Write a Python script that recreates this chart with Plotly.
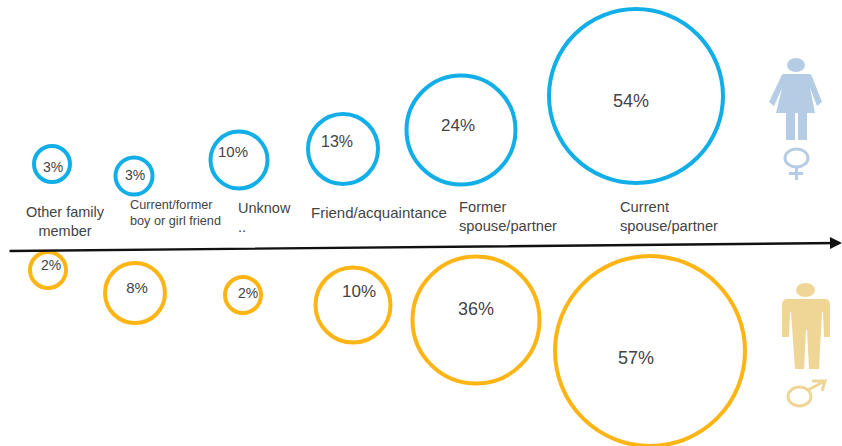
import plotly.graph_objects as go

# Relationship categories as labelled in the picture
categories = ["Other family<br>member", "Current/former<br>boy or girl friend", "Unknow<br>..",
              "Friend/acquaintance", "Former<br>spouse/partner", "Current<br>spouse/partner"]
female_pct = ["3%", "3%", "10%", "13%", "24%", "54%"]
male_pct = ["2%", "8%", "2%", "10%", "36%", "57%"]

# Bubble placement (no numeric scale exists in the source)
female_x = [52, 134, 239, 343, 461, 636]
female_y = [164, 176, 160, 149, 130, 96]
female_size = [36, 37, 57, 70, 109, 174]
male_x = [48, 135, 243, 353, 476, 650]
male_y = [270, 293, 295, 305, 320, 351]
male_size = [36, 60, 36, 75, 127, 190]
female_text_x = [53, 135, 233, 337, 458, 631]
female_text_y = [168, 176, 153, 143, 127, 102]
male_text_x = [51, 137, 248, 359, 476, 636]
male_text_y = [266, 289, 294, 293, 310, 359]
female_font = [14, 14, 15, 16, 17, 18]
male_font = [14, 15, 14, 17, 18, 18]
cat_x = [65, 130, 238, 311, 459, 620]
cat_y = [223, 214, 219, 214, 218, 218]
cat_pos = ["middle center", "middle right", "middle right", "middle right", "middle right", "middle right"]
cat_font = [14.5, 12.7, 14.5, 15, 14.7, 14.7]

BLUE = "#12AEE8"
GOLD = "#FDB515"
TXT = "#444444"
FIG_BLUE = "#B4CDE4"
FIG_GOLD = "#EFD596"

fig = go.Figure()
for xs, ys, sizes, col in [(female_x, female_y, female_size, BLUE), (male_x, male_y, male_size, GOLD)]:
    fig.add_trace(go.Scatter(x=xs, y=ys, mode="markers", cliponaxis=False, hoverinfo="skip",
                             marker=dict(size=sizes, opacity=1, color="rgba(0,0,0,0)",
                                         line=dict(color=col, width=4))))
for xs, ys, labels, size in [(female_text_x, female_text_y, female_pct, female_font),
                             (male_text_x, male_text_y, male_pct, male_font)]:
    fig.add_trace(go.Scatter(x=xs, y=ys, mode="text", text=labels, hoverinfo="skip",
                             textfont=dict(family="Liberation Sans", size=size, color=TXT)))
fig.add_trace(go.Scatter(x=cat_x, y=cat_y, mode="text", text=categories, textposition=cat_pos, hoverinfo="skip",
                         textfont=dict(family="Liberation Sans", size=cat_font, color=TXT)))

# Axis arrow
fig.add_annotation(x=842, y=243, ax=8, ay=251, xref="x", yref="y", axref="x", ayref="y", text="",
                   showarrow=True, arrowhead=2, arrowsize=1, arrowwidth=2.4, arrowcolor="#111111")

# Female pictogram
fig.add_shape(type="circle", x0=787, x1=805, y0=58, y1=72, fillcolor=FIG_BLUE, line=dict(width=0))
woman = ("M 783 74 L 810 74 Q 812 75 813 79 L 822 102 L 817 106 L 810 88 L 815 113 L 807 113 L 807 140 "
         "L 798 140 L 798 113 L 795 113 L 795 140 L 786 140 L 786 113 L 776 113 L 782 88 L 774 106 "
         "L 769 102 L 780 79 Q 781 75 783 74 Z")
fig.add_shape(type="path", path=woman, fillcolor=FIG_BLUE, line=dict(width=0), xref="x", yref="y")
fig.add_shape(type="circle", x0=785, x1=808, y0=149, y1=167, line=dict(color=FIG_BLUE, width=3))
fig.add_shape(type="path", path="M 796.5 167 L 796.5 180 M 789 173.5 L 803 173.5", line=dict(color=FIG_BLUE, width=3))

# Male pictogram
fig.add_shape(type="circle", x0=796, x1=815, y0=283, y1=297, fillcolor=FIG_GOLD, line=dict(width=0))
man = ("M 786 299 L 826 299 Q 830 300 830 305 L 830 337 L 824 337 L 823 312 L 822 312 L 819 369 L 809 369 "
       "L 807 330 L 806 330 L 804 369 L 795 369 L 791 312 L 790 312 L 789 337 L 782 337 L 782 305 Q 782 300 786 299 Z")
fig.add_shape(type="path", path=man, fillcolor=FIG_GOLD, line=dict(width=0), xref="x", yref="y")
fig.add_shape(type="circle", x0=788, x1=811, y0=387, y1=406, line=dict(color=FIG_GOLD, width=3))
fig.add_shape(type="path", path="M 808 390 L 823 382 M 812 381 L 825 381 L 822 391", line=dict(color=FIG_GOLD, width=3))

fig.update_layout(width=842, height=446, margin=dict(l=0, r=0, t=0, b=0), showlegend=False,
                  paper_bgcolor="white", plot_bgcolor="white",
                  xaxis=dict(range=[0, 842], visible=False, fixedrange=True),
                  yaxis=dict(range=[446, 0], visible=False, fixedrange=True))
fig.write_html("out.html", config={"displayModeBar": False},
               post_script="document.body.style.margin='0';document.body.style.overflow='hidden';")
